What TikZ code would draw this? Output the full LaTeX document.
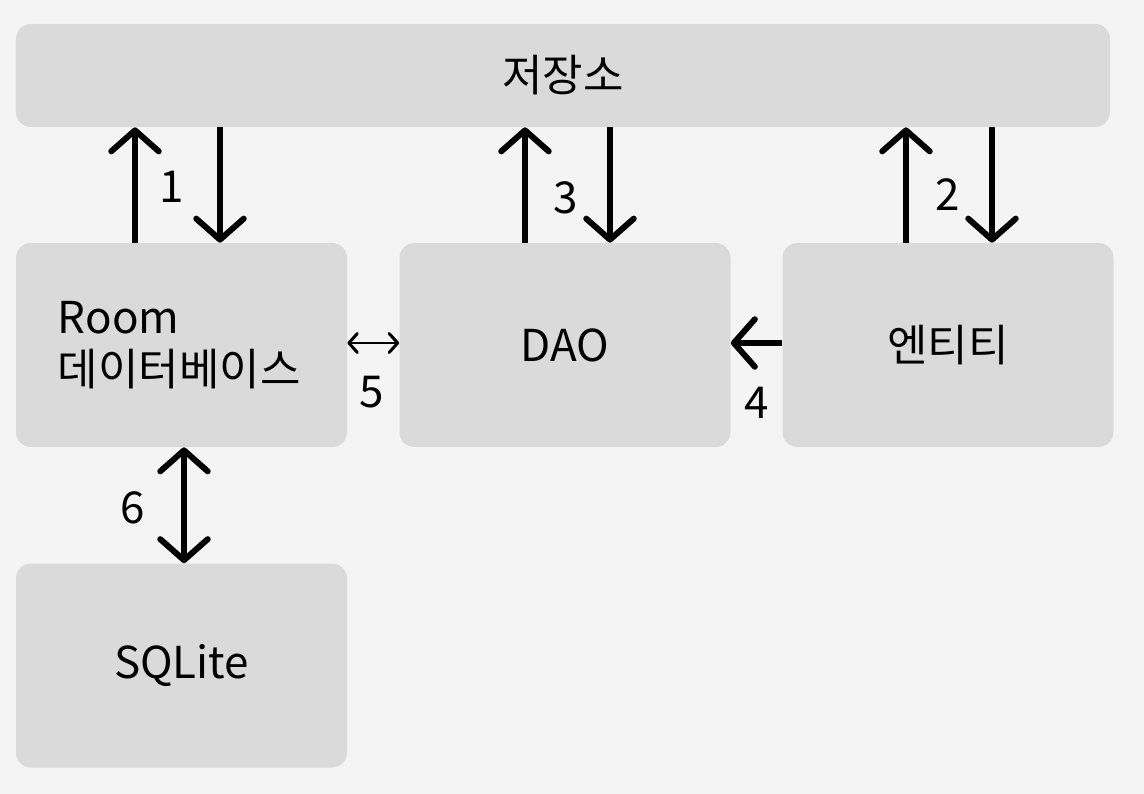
\documentclass[tikz,border=0pt]{standalone}
\usepackage{fontspec}
\setmainfont{Noto Sans CJK KR}
\usetikzlibrary{arrows.meta}
\definecolor{bgcol}{HTML}{F4F4F4}
\definecolor{boxcol}{HTML}{DADADA}
\begin{document}
\begin{tikzpicture}[
  box/.style={rounded corners=0.3cm, fill=boxcol, minimum width=6.62cm, minimum height=4.08cm, inner sep=0pt, font=\fontsize{25}{30}\selectfont},
  arr/.style={line width=3.4pt, -{Straight Barb[round, length=0.42cm, width=0.95cm]}},
  darr/.style={line width=3.4pt, {Straight Barb[round, length=0.42cm, width=0.95cm]}-{Straight Barb[round, length=0.42cm, width=0.95cm]}},
  sarr/.style={line width=1.7pt, {Straight Barb[round, length=0.17cm, width=0.38cm]}-{Straight Barb[round, length=0.17cm, width=0.38cm]}},
  lbl/.style={font=\fontsize{25}{30}\selectfont}
]
  \fill[bgcol] (0,0) rectangle (22.88,-15.88);
  \useasboundingbox (0,0) rectangle (22.88,-15.88);

  \node[box, minimum width=21.88cm, minimum height=2.06cm] (store) at (11.26,-1.51) {저장소};
  \node[box, align=left, text width=4.94cm, inner xsep=0.84cm] (room) at (3.63,-6.9) {Room\\데이터베이스};
  \node[box] (dao) at (11.3,-6.9) {DAO};
  \node[box] (entity) at (18.96,-6.9) {엔티티};
  \node[box] (sqlite) at (3.63,-13.31) {SQLite};

  % room <-> store
  \draw[arr] ([xshift=-0.93cm]room.north) -- ([xshift=-0.93cm]room.north |- store.south);
  \draw[arr] ([xshift=0.77cm]room.north |- store.south) -- ([xshift=0.77cm]room.north);
  \node[lbl] (l1) at (3.44,-3.74) {1};

  % dao <-> store
  \draw[arr] ([xshift=-0.8cm]dao.north) -- ([xshift=-0.8cm]dao.north |- store.south);
  \draw[arr] ([xshift=0.9cm]dao.north |- store.south) -- ([xshift=0.9cm]dao.north);
  \node[lbl] (l3) at (11.32,-3.96) {3};

  % entity <-> store
  \draw[arr] ([xshift=-0.84cm]entity.north) -- ([xshift=-0.84cm]entity.north |- store.south);
  \draw[arr] ([xshift=0.88cm]entity.north |- store.south) -- ([xshift=0.88cm]entity.north);
  \node[lbl] (l2) at (18.96,-3.9) {2};

  % entity -> dao
  \draw[arr] ([yshift=0.04cm]entity.west) -- ([yshift=0.04cm]dao.east);
  \node[lbl] (l4) at (15.14,-8.06) {4};

  % room <-> dao
  \draw[sarr] ([yshift=0.04cm]room.east) -- ([yshift=0.04cm]dao.east -| dao.west);
  \node[lbl] (l5) at (7.44,-7.84) {5};

  % room <-> sqlite
  \draw[darr] ([xshift=0.05cm]room.south) -- ([xshift=0.05cm]sqlite.north);
  \node[lbl] (l6) at (2.66,-10.16) {6};
\end{tikzpicture}
\end{document}
